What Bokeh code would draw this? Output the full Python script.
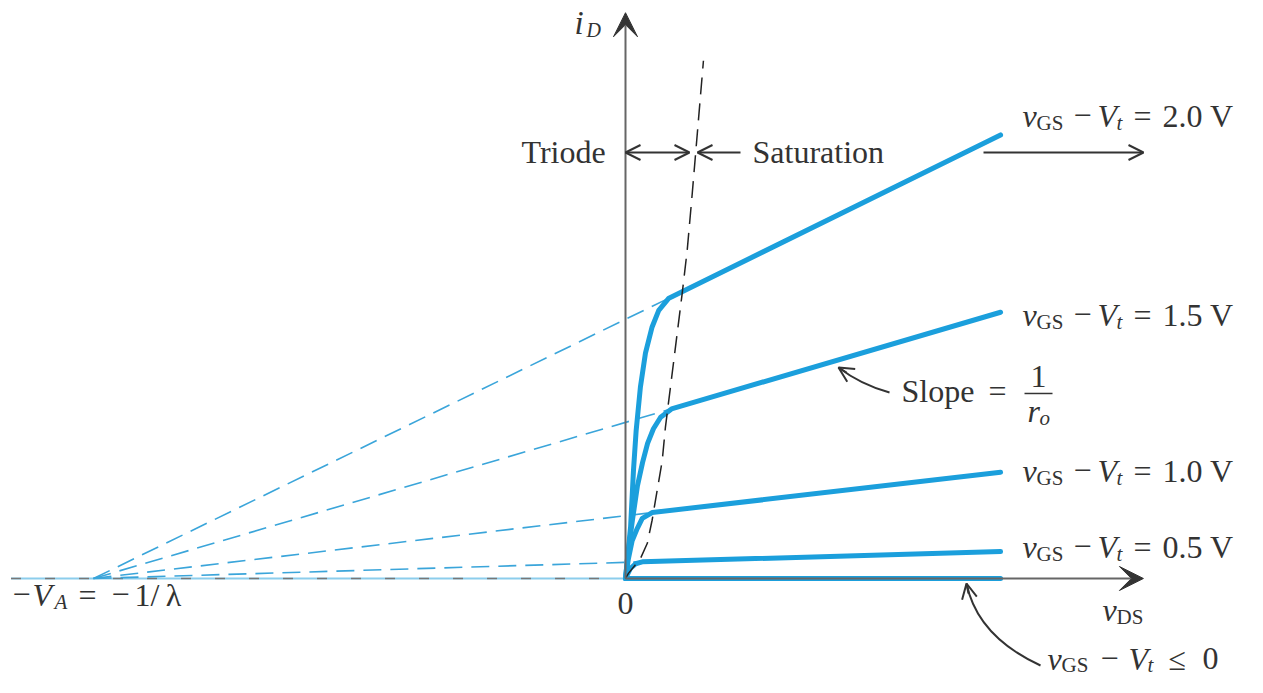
from bokeh.plotting import figure
from bokeh.models import Range1d, Label, Arrow, OpenHead, VeeHead
from bokeh.embed import file_html
from bokeh.resources import INLINE

# ---------------- data (v_DS in V, i_D in mA) ----------------
overdrive_labels = ["2.0 V", "1.5 V", "1.0 V", "0.5 V"]
V_A = 20.0

vds_20 = [0.0, 0.19, 0.30, 0.40, 0.56, 0.75, 1.00, 1.25, 1.63, 14.1]
id_20 = [0.0, 0.80, 1.69, 2.31, 2.99, 3.52, 3.93, 4.19, 4.38, 6.93]
vds_15 = [0.0, 0.11, 0.26, 0.45, 0.64, 0.83, 1.05, 1.32, 1.73, 14.1]
id_15 = [0.0, 0.44, 0.91, 1.45, 1.81, 2.11, 2.34, 2.52, 2.65, 4.16]
vds_10 = [0.0, 0.11, 0.25, 0.44, 0.63, 1.00, 14.1]
id_10 = [0.0, 0.31, 0.59, 0.78, 0.94, 1.03, 1.66]
vds_05 = [0.0, 0.19, 0.38, 0.63, 14.1]
id_05 = [0.0, 0.16, 0.23, 0.26, 0.42]
vds_00 = [0.0, 14.1]
id_00 = [0.0, 0.0]

# triode / saturation boundary (v_DS = v_GS - V_t locus)
edge_vds = [0.0, 0.11, 0.56, 0.82, 1.00, 1.38, 1.50, 2.13, 2.32, 2.51, 2.93]
edge_id = [0.0, 0.08, 0.31, 0.55, 0.91, 1.84, 2.36, 4.45, 5.13, 6.02, 8.09]

# axes extents
x_axis_left = -23.1
x_axis_tip = 19.47
y_axis_tip = 8.84

# ---------------- figure ----------------
BLUE = "#1b9fdc"
LBLUE = "#3aa5da"
GRAY = "#666666"
DARK = "#333333"
FONT = "Liberation Serif"
FS = 32      # main text size (px)
SS = 21      # subscript size (px)
TEXT_DY = 10.5

p = figure(width=1247, height=677, x_range=Range1d(-23.496, 23.383),
           y_range=Range1d(-1.547, 9.031), output_backend="svg",
           toolbar_location=None, x_axis_type=None, y_axis_type=None,
           min_border=0)
p.grid.visible = False
p.outline_line_color = None
p.background_fill_color = "white"


def X(px):
    return (px - 625) / 26.6


def Y(py):
    return (578 - py) / 64.0


# left (negative v_DS) axis: light blue line with grey dashes
p.line([x_axis_left, 0], [0, 0], line_color="#8ccdec", line_width=2)
p.line([x_axis_left, 0], [0, 0], line_color="#777777", line_width=1.5,
       line_dash="10 24")

# dashed extrapolations to -V_A
curves = [(vds_20, id_20), (vds_15, id_15), (vds_10, id_10), (vds_05, id_05)]
for vx, iy in curves:
    p.line([-V_A, vx[-2]], [0, iy[-2]], line_color=LBLUE, line_width=1.6,
           line_dash="18 9")

# axes
p.add_layout(Arrow(end=VeeHead(size=24, fill_color=DARK, line_color=DARK),
                   x_start=0, y_start=0, x_end=x_axis_tip, y_end=0,
                   line_color=GRAY, line_width=2))
p.add_layout(Arrow(end=VeeHead(size=24, fill_color=DARK, line_color=DARK),
                   x_start=0, y_start=0, x_end=0, y_end=y_axis_tip,
                   line_color=GRAY, line_width=2))

# characteristic curves
for vx, iy in curves + [(vds_00, id_00)]:
    p.line(vx, iy, line_color=BLUE, line_width=5, line_join="round",
           line_cap="round")

# boundary
p.line(edge_vds, edge_id, line_color="#222222", line_width=1.5,
       line_dash="17 9")


def lab(px, py, s, size=FS, style="normal", align="left"):
    p.add_layout(Label(x=X(px), y=Y(py - TEXT_DY), text=s, text_font=FONT,
                       text_font_size=f"{size}px", text_font_style=style,
                       text_color=DARK, text_align=align,
                       text_baseline="alphabetic"))


def arrow(x0, y0, x1, y1, both=False, size=15):
    head = dict(size=size, line_color=DARK, line_width=2)
    p.add_layout(Arrow(start=OpenHead(**head) if both else None,
                       end=OpenHead(**head), x_start=x0, y_start=y0,
                       x_end=x1, y_end=y1, line_color=DARK, line_width=2))


# axis labels
lab(574, 33, "i", size=33, style="italic")
lab(586, 40, "D", size=20, style="italic")
lab(1102, 620, "v", style="italic")
lab(1116, 627, "DS", size=SS)
lab(625, 614, "0", align="center")
lab(12, 605, "\u2212")
lab(32, 605, "V", style="italic")
lab(54, 612, "A", size=SS, style="italic")
lab(78, 605, "=")
lab(111, 605, "\u2212")
lab(134, 605, "1/\u2009\u03bb")

# triode / saturation
lab(521, 162, "Triode")
lab(752, 162, "Saturation")
arrow(0, Y(152), X(689), Y(152), both=True)
arrow(X(740), Y(152), X(697), Y(152))
arrow(X(983), Y(152), X(1143), Y(152))

# curve labels
for txt, b in zip(overdrive_labels, [126, 325, 481, 557]):
    lab(1022, b, "v", style="italic")
    lab(1036, b + 7, "GS", size=SS)
    lab(1073, b, "\u2212")
    lab(1097, b, "V", style="italic")
    lab(1116, b + 7, "t", size=SS, style="italic")
    lab(1133, b, "=")
    lab(1162, b, txt)

# v_GS - V_t <= 0
b = 669
lab(1047, b, "v", style="italic")
lab(1061, b + 6, "GS", size=SS)
lab(1100, b, "\u2212")
lab(1128, b, "V", style="italic")
lab(1147, b + 6, "t", size=SS, style="italic")
lab(1168, b, "\u2264")
lab(1202, b, "0")

# slope = 1 / r_o
lab(901, 401, "Slope")
lab(988, 401, "=")
lab(1038, 387, "1", align="center")
p.add_layout(Arrow(end=None, x_start=X(1024), y_start=Y(393), x_end=X(1052),
                   y_end=Y(393), line_color=DARK, line_width=1.5))
lab(1027, 421, "r", style="italic")
lab(1039, 428, "o", size=SS, style="italic")

# slope pointer (slightly curved)
t0 = (X(889), Y(392))
t1 = (X(838), Y(367))
c = (X(860), Y(384))
p.quadratic(x0=[t0[0]], y0=[t0[1]], x1=[t1[0]], y1=[t1[1]], cx=[c[0]], cy=[c[1]],
            line_color=DARK, line_width=2)
arrow(X(846), Y(372), t1[0], t1[1], size=15)

# pointer to zero curve
q0 = (X(1040), Y(665))
q1 = (X(966), Y(583))
qc = (X(977), Y(636))
p.quadratic(x0=[q0[0]], y0=[q0[1]], x1=[q1[0]], y1=[q1[1]], cx=[qc[0]], cy=[qc[1]],
            line_color=DARK, line_width=2)
arrow(X(968), Y(593), q1[0], q1[1], size=15)

open("out.html", "w").write(file_html(p, INLINE))
